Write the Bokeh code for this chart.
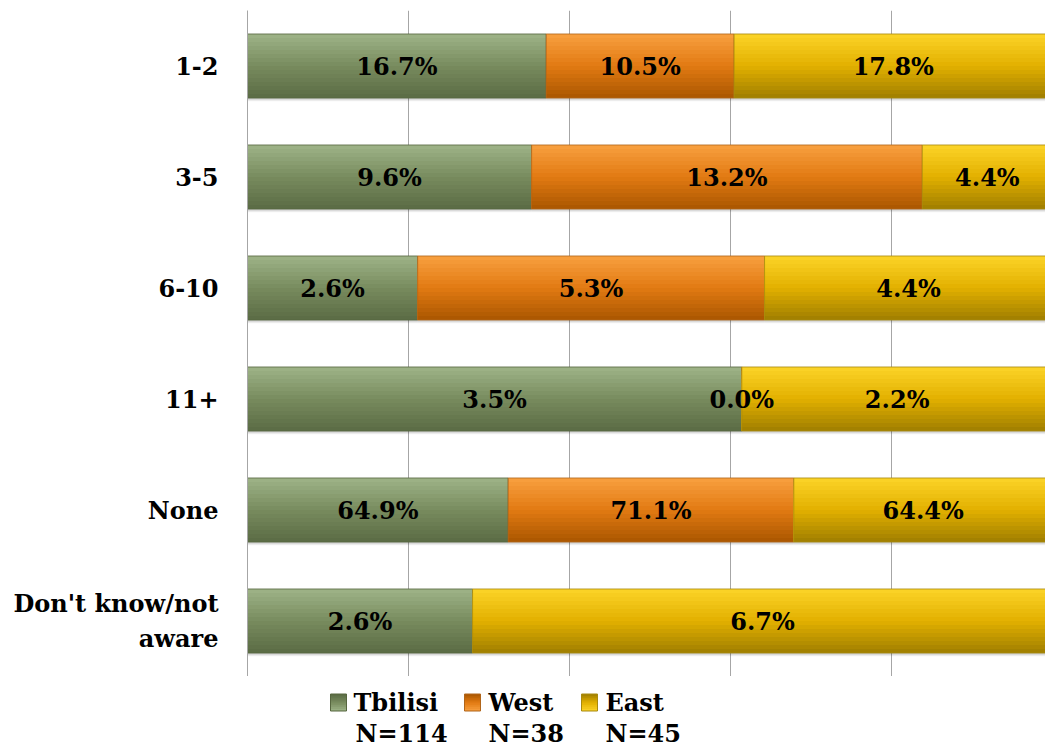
import numpy as np
from bokeh.plotting import figure
from bokeh.layouts import column
from bokeh.models import Range1d, FactorRange, ColumnDataSource, FixedTicker
from bokeh.transform import dodge
from bokeh.core.properties import value
from bokeh.embed import file_html
from bokeh.resources import INLINE

categories = ["1-2", "3-5", "6-10", "11+", "None", "Don't know/not\naware"]
tbilisi = [16.7, 9.6, 2.6, 3.5, 64.9, 2.6]
west = [10.5, 13.2, 5.3, 0.0, 71.1, None]
east = [17.8, 4.4, 4.4, 2.2, 64.4, 6.7]
series_names = ["Tbilisi", "West", "East"]
series_n = ["N=114", "N=38", "N=45"]
grid_ticks = [0.2, 0.4, 0.6, 0.8]

FONT = "DejaVu Serif"
series_vals = [tbilisi, west, east]
# top, middle, bottom colours of the gradient and an outline colour
grads = [
    ("#9eb488", "#788b5e", "#5a6b44", "#56663f"),
    ("#f8a040", "#e27a12", "#a95600", "#b0651a"),
    ("#fcd428", "#e2b000", "#9f7e00", "#a88a10"),
]

p = figure(width=1045, height=676,
           y_range=FactorRange(factors=list(reversed(categories))),
           x_range=Range1d(0, 0.9913),
           output_backend="svg", toolbar_location=None,
           min_border_left=247, min_border_right=0, min_border_top=10,
           min_border_bottom=0)
p.outline_line_color = None
p.xaxis.visible = False
p.ygrid.visible = False
p.xgrid.ticker = FixedTicker(ticks=grid_ticks)
p.xgrid.grid_line_color = "#a6a6a6"
p.yaxis.axis_line_color = "#a6a6a6"
p.yaxis.major_tick_line_color = None
p.yaxis.minor_tick_line_color = None
p.yaxis.major_label_standoff = 23
p.yaxis.major_label_text_font = FONT
p.yaxis.major_label_text_font_style = "bold"
p.yaxis.major_label_text_font_size = "24px"
p.yaxis.major_label_text_color = "black"

totals = []
for i in range(len(categories)):
    totals.append(sum(s[i] for s in series_vals if s[i] is not None))

H = 0.577
NS = 16


def hexmix(a, b, t):
    a = [int(a[k:k + 2], 16) for k in (1, 3, 5)]
    b = [int(b[k:k + 2], 16) for k in (1, 3, 5)]
    return "#%02x%02x%02x" % tuple(int(round(a[j] + (b[j] - a[j]) * t)) for j in range(3))


def grad_color(g, t):
    top, midc, bot = g[0], g[1], g[2]
    return hexmix(top, midc, t / 0.5) if t < 0.5 else hexmix(midc, bot, (t - 0.5) / 0.5)


left = [0.0] * len(categories)
seg_sources = []
for si, vals in enumerate(series_vals):
    cats, l, r, mid, lab = [], [], [], [], []
    for i, c in enumerate(categories):
        v = vals[i]
        if v is None:
            continue
        f = v / totals[i]
        cats.append(c)
        l.append(left[i])
        r.append(left[i] + f)
        mid.append(left[i] + f / 2)
        lab.append("%.1f%%" % v)
        left[i] += f
    seg_sources.append(ColumnDataSource(dict(cat=cats, left=l, right=r, mid=mid, lab=lab)))

# soft shadows
for si, src in enumerate(seg_sources):
    for off, a in ((-0.03, 0.06), (-0.02, 0.07), (-0.01, 0.08)):
        p.hbar(y=dodge("cat", off, range=p.y_range), left="left", right="right", height=H,
               source=src, fill_color="black", fill_alpha=a, line_color=None)

# gradient bars: each slice runs from its own top down to the bar bottom
for si, src in enumerate(seg_sources):
    g = grads[si]
    for k in range(NS):
        t = (k + 0.5) / NS
        top_off = H / 2 - k * H / NS
        hh = H - k * H / NS
        off = top_off - hh / 2
        p.hbar(y=dodge("cat", off, range=p.y_range), left="left", right="right",
               height=hh, source=src, fill_color=grad_color(g, t), line_color=None)
    p.hbar(y="cat", left="left", right="right", height=H, source=src,
           fill_color=None, line_color=g[3], line_width=1, line_alpha=0.8)

for src in seg_sources:
    p.text(x="mid", y="cat", text="lab", source=src, text_align="center",
           text_baseline="middle", text_font=value(FONT), text_font_style="bold",
           text_font_size="24px", text_color="black")

# legend strip below the chart (one unit = one pixel; same left border as the chart)
lg = figure(width=1045, height=72, x_range=Range1d(247, 1045), y_range=Range1d(0, 72),
            output_backend="svg", toolbar_location=None,
            min_border_left=247, min_border_right=0, min_border_top=0, min_border_bottom=0)
lg.xaxis.visible = False
lg.yaxis.visible = False
lg.grid.visible = False
lg.outline_line_color = None
key_x = [338, 472, 589]
name_x = [353, 488, 605]
n_x = [355, 488, 605]
KEY_Y, KEY_H = 46, 17
for si in range(3):
    g = grads[si]
    for k in range(8):
        t = (k + 0.5) / 8
        hh = KEY_H - k * KEY_H / 8
        lg.rect(x=[key_x[si]], y=[KEY_Y + KEY_H / 2 - hh / 2], width=16, height=hh,
                fill_color=grad_color(g, t), line_color=None)
    lg.rect(x=[key_x[si]], y=[KEY_Y], width=16, height=KEY_H, fill_color=None,
            line_color=g[3], line_width=1)
lg.text(x=name_x, y=[KEY_Y] * 3, text=series_names, text_align="left",
        text_baseline="middle", text_font=value(FONT), text_font_style="bold",
        text_font_size="24px", text_color="black")
lg.text(x=n_x, y=[15] * 3, text=series_n, text_align="left",
        text_baseline="middle", text_font=value(FONT), text_font_style="bold",
        text_font_size="24px", text_color="black")

open("out.html", "w").write(file_html(column(p, lg, spacing=0), INLINE))
